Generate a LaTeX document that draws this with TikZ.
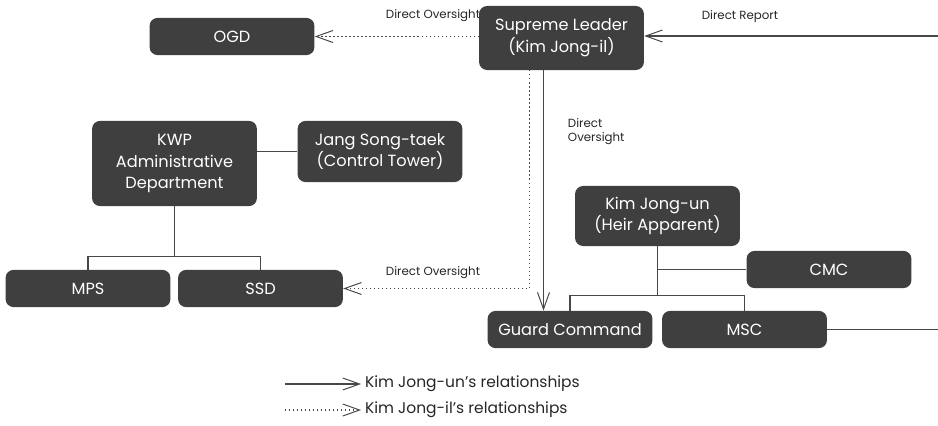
\documentclass[tikz,border=0pt]{standalone}
\usepackage{fontspec}
\setmainfont{Poppins}
\usepackage{tikz}
\usetikzlibrary{arrows.meta,positioning,calc}

\definecolor{boxgray}{HTML}{3F3F3F}
\definecolor{linegray}{HTML}{474747}

\begin{document}
\begin{tikzpicture}[
    x=0.025cm, y=-0.025cm,
    box/.style={rectangle, rounded corners=0.2cm, fill=boxgray, text=white, align=center,
        minimum width=4.12cm, minimum height=0.93cm, inner sep=2pt,
        font=\fontsize{11.5}{15.5}\selectfont},
    lbl/.style={font=\fontsize{8.4}{10}\selectfont, text=black!85},
    legendtxt/.style={font=\fontsize{11}{12}\selectfont, text=black!85},
    tip/.style={-{Straight Barb[length=0.42cm, width=0.3cm, line width=0.7pt]}},
    kju/.style={draw=linegray, line width=0.85pt},
    kjil/.style={draw=linegray, line width=0.85pt, dotted},
    tree/.style={draw=linegray, line width=0.85pt}
]
    \useasboundingbox (0,0) rectangle (938,426);

    % Top row
    \node[box] (ogd) at (232,36.5) {OGD};
    \node[box, minimum height=1.6cm] (sl) at (561.5,38) {Supreme Leader\\(Kim Jong-il)};

    % KWP side
    \node[box, minimum height=2.13cm] (kwp) at (174.5,163.5) {KWP\\Administrative\\Department};
    \node[box, minimum height=1.53cm] (jang) at (380,151.5) {Jang Song-taek\\(Control Tower)};
    \node[box] (mps) at (88,288.5) {MPS};
    \node[box] (ssd) at (260.5,288.5) {SSD};

    % Heir side
    \node[box, minimum height=1.5cm] (heir) at (657.5,216) {Kim Jong-un\\(Heir Apparent)};
    \node[box] (cmc) at (829,269.5) {CMC};
    \node[box] (gc) at (570,329.5) {Guard Command};
    \node[box] (msc) at (744.5,329.5) {MSC};

    % Off-picture ends
    \coordinate (rep) at (938,36);
    \coordinate (mscend) at (938,329.5);

    % Edges
    \draw[kjil, tip] (sl.west |- ogd.east) -- (ogd.east);
    \draw[kju, tip] (rep) -- (rep -| sl.east);
    \draw[kjil, tip] ([xshift=-0.8cm]sl.south) |- (ssd.east);
    \draw[kju, tip] ([xshift=-0.45cm]sl.south) -- ([xshift=-0.45cm]sl.south |- gc.north);
    \draw[tree] (kwp.east |- jang.west) -- (jang.west);
    \draw[tree] (kwp.south) -- ++(0,50) coordinate (kwpfork) -| (mps.north);
    \draw[tree] (kwpfork) -| (ssd.north);
    \draw[tree] (heir.south) -- ++(0,49) coordinate (heirfork) -| (gc.north);
    \draw[tree] (heirfork) -| (msc.north);
    \draw[tree] (heir.south |- cmc.west) -- (cmc.west);
    \draw[tree] (msc.east) -- (mscend);

    % Labels
    \node[lbl] (lblogd) at (433,16) {Direct Oversight};
    \node[lbl] (lblrep) at (740,17) {Direct Report};
    \node[lbl, align=left, anchor=west] (lblgc) at (563,132) {Direct\\Oversight};
    \node[lbl] (lblssd) at (433,273) {Direct Oversight};

    % Legend
    \coordinate (lega) at (285,384);
    \coordinate (legb) at (285,410);
    \draw[kju, tip] (lega) -- ++(76,0) coordinate (legaend);
    \draw[kjil, tip] (legb) -- ++(76,0) coordinate (legbend);
    \node[legendtxt, anchor=west, inner sep=1pt] (legun) at ([xshift=0.06cm]legaend) {Kim Jong-un’s relationships};
    \node[legendtxt, anchor=west, inner sep=1pt] (legil) at ([xshift=0.06cm]legbend) {Kim Jong-il’s relationships};
\end{tikzpicture}
\end{document}
